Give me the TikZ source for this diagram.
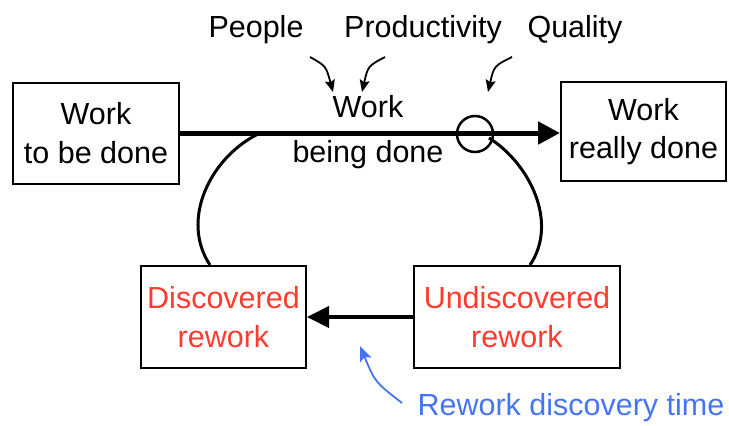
\documentclass[tikz,border=0pt]{standalone}
\usepackage{fontspec}
\setmainfont{Liberation Sans}
\usepackage{xcolor}
\usetikzlibrary{arrows.meta,positioning}
\definecolor{rework}{HTML}{FF3B30}
\definecolor{delay}{HTML}{4674F5}

\begin{document}
\begin{tikzpicture}[x=1pt,y=-1pt,font=\fontsize{30.5}{38.5}\selectfont,
  stock/.style={draw,line width=2pt,align=center,inner sep=0pt},
  flow/.style={line width=5pt,-{Triangle[length=22pt,width=22pt]}},
  loopline/.style={line width=3pt},
  infl/.style={line width=1.8pt,-{Stealth[length=12pt,width=10pt,inset=2pt]}}]
\useasboundingbox (0,0) rectangle (729,426);

% stocks
\node[stock,minimum width=166pt,minimum height=101pt] (todo) at (96,133) {Work\\to be done};
\node[stock,minimum width=165pt,minimum height=99pt] (done) at (643.5,131.5) {Work\\really done};
\node[stock,minimum width=165pt,minimum height=102pt,text=rework] (disc) at (223.5,317) {Discovered\\rework};
\node[stock,minimum width=206pt,minimum height=102pt,text=rework] (undisc) at (517,317) {Undiscovered\\rework};

% flows
\draw[flow] (todo.east |- 0,133) -- (done.west |- 0,133);
\node[circle,draw,line width=2.5pt,minimum size=36pt,inner sep=0pt] (valve) at (475,134) {};
\draw[flow,line width=4pt,-{Triangle[length=22pt,width=21pt]}] (undisc.west) -- (disc.east);
\coordinate (split) at (258,134);
\coordinate (leak) at (489,138);
\draw[loopline] (split) .. controls (210,158) and (180,220) .. (disc.north -| 210,0);
\draw[loopline] (leak) .. controls (529,163) and (559,222) .. (undisc.north -| 530,0);

\node (flowtop) at (368,107) {Work};
\node (flowbot) at (368,155) {being done};

% influences
\node (people) at (256,29.5) {People};
\node (prod) at (423,29.5) {Productivity};
\node (qual) at (575,29.5) {Quality};
\coordinate (pa) at (310,57);
\coordinate (pb) at (333,92);
\coordinate (qa) at (385,57);
\coordinate (qb) at (362,92);
\coordinate (ra) at (512,57);
\coordinate (rb) at (488,92);
\draw[infl] (pa) .. controls (326,66) .. (pb);
\draw[infl] (qa) .. controls (368,66) .. (qb);
\draw[infl] (ra) .. controls (494,66) .. (rb);

\node[text=delay] (dtime) at (571,408) {Rework discovery time};
\coordinate (da) at (402,403);
\coordinate (db) at (360,346);
\draw[infl,delay,line width=1.8pt,-{Stealth[length=15pt,width=12pt,inset=3pt]}] (da) .. controls (375,382) .. (db);
\end{tikzpicture}
\end{document}
